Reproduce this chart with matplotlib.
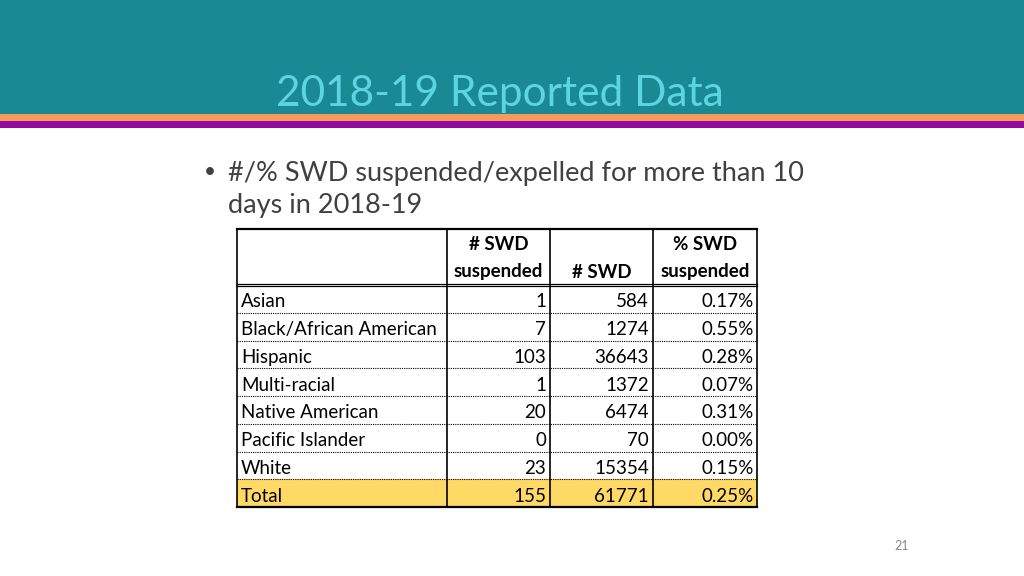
import matplotlib.pyplot as plt
from matplotlib.patches import Rectangle

groups = ["Asian", "Black/African American", "Hispanic", "Multi-racial",
          "Native American", "Pacific Islander", "White", "Total"]
suspended = [1, 7, 103, 1, 20, 0, 23, 155]
swd_counts = [584, 1274, 36643, 1372, 6474, 70, 15354, 61771]
pct_suspended = ["0.17%", "0.55%", "0.28%", "0.07%", "0.31%", "0.00%", "0.15%", "0.25%"]
col_headers = [["", ""], ["# SWD", "suspended"], ["", "# SWD"], ["% SWD", "suspended"]]

plt.rcParams['font.family'] = ['Lato', 'DejaVu Sans']

fig = plt.figure(figsize=(10.24, 5.76), dpi=100)
ax = fig.add_axes([0, 0, 1, 1])
ax.set_xlim(0, 1024)
ax.set_ylim(576, 0)
ax.axis("off")

# slide header bands
ax.add_patch(Rectangle((0, 0), 1024, 114, color="#198994", lw=0))
ax.add_patch(Rectangle((0, 114), 1024, 7, color="#F79A5C", lw=0))
ax.add_patch(Rectangle((0, 121), 1024, 7, color="#900A9F", lw=0))
ax.text(500, 106, "2018-19 Reported Data", color="#5DD5E0", fontsize=30.5,
        ha="center", va="baseline")

# bullet text
ax.text(204, 172, "\u2022", color="#404040", fontsize=15, ha="left", va="center")
ax.text(228, 173, "#/% SWD suspended/expelled for more than 10", color="#404040",
        fontsize=19.5, ha="left", va="center")
ax.text(228, 206, "days in 2018-19", color="#404040", fontsize=19.5,
        ha="left", va="center")

# table
col_x = [237, 447, 550, 653, 757]
top = 229
head_h = 28
row_h = 27.75
body_top = top + 2 * head_h

# total row fill
n = len(groups)
ax.add_patch(Rectangle((col_x[0], body_top + (n - 1) * row_h), col_x[-1] - col_x[0],
                       row_h, color="#FFD966", lw=0))

bottom = body_top + n * row_h
# vertical lines
for x in col_x:
    ax.plot([x, x], [top, bottom], color="black", lw=1.2)
# outer top / bottom
ax.plot([col_x[0], col_x[-1]], [top, top], color="black", lw=1.6)
ax.plot([col_x[0], col_x[-1]], [bottom, bottom], color="black", lw=1.6)
# double line under header
ax.plot([col_x[0], col_x[-1]], [body_top - 1.5, body_top - 1.5], color="black", lw=0.9)
ax.plot([col_x[0], col_x[-1]], [body_top + 1.0, body_top + 1.0], color="black", lw=0.9)
# dotted row separators
for i in range(1, n):
    y = body_top + i * row_h
    ax.plot([col_x[0], col_x[-1]], [y, y], color="black", lw=0.8,
            linestyle=(0, (1, 1)))

# headers
for j, (h1, h2) in enumerate(col_headers):
    cx = (col_x[j] + col_x[j + 1]) / 2
    ax.text(cx, top + head_h / 2 + 1.5, h1, fontsize=13.5, fontweight="bold",
            ha="center", va="center")
    ax.text(cx, top + 1.5 * head_h + 1, h2, fontsize=13.5, fontweight="bold",
            ha="center", va="center")

# body
for i in range(n):
    cy = body_top + (i + 0.5) * row_h + 3
    ax.text(col_x[0] + 4, cy, groups[i], fontsize=13.5, ha="left", va="center")
    ax.text(col_x[2] - 4, cy, str(suspended[i]), fontsize=13.5, ha="right", va="center")
    ax.text(col_x[3] - 4, cy, str(swd_counts[i]), fontsize=13.5, ha="right", va="center")
    ax.text(col_x[4] - 3, cy, pct_suspended[i], fontsize=13.5, ha="right", va="center")

ax.text(902, 546, "21", color="#888888", fontsize=9, ha="center", va="center")

fig.savefig("out.png", dpi=100)
